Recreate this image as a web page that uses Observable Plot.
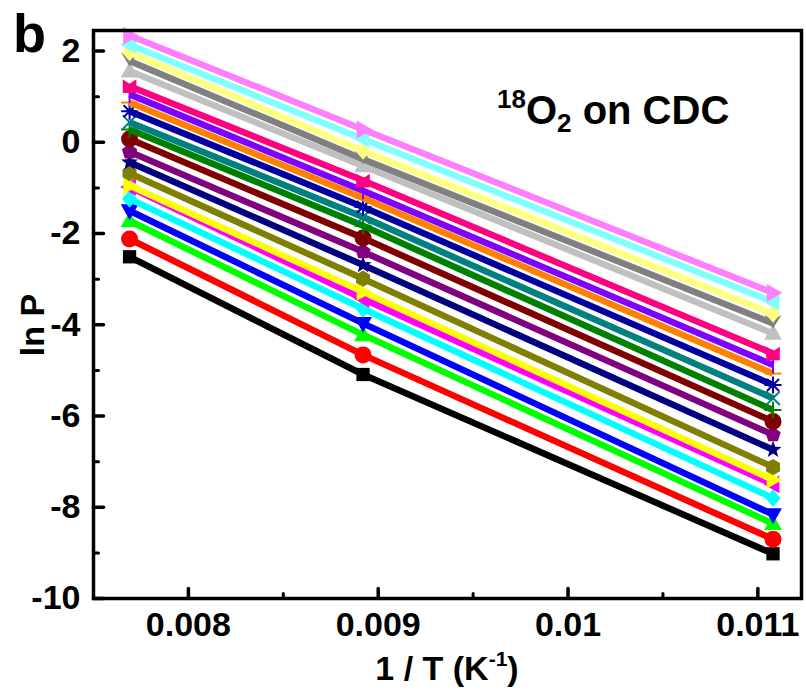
<!DOCTYPE html>
<html><head><meta charset="utf-8">
<script src="https://cdn.jsdelivr.net/npm/d3@7"></script>
<script src="https://cdn.jsdelivr.net/npm/@observablehq/plot@0.6"></script>
<style>
body{margin:0;background:#fff}
#chart{position:relative;width:806px;height:695px}
#chart svg text{font-weight:700}
</style>
</head><body><div id="chart"></div>
<script>
// ---- data ----
const invT = [0.00769, 0.00892, 0.01108];
const seriesNames = ["Black","Red","Green","Blue","Cyan","Magenta","Yellow","Dark Yellow","Navy","Purple","Wine","Olive","Dark Cyan","Royal","Orange","Violet","Pink","LT Gray","Gray","LT Yellow","LT Cyan","LT Magenta"];
const seriesColors = ["#000000","#FF0000","#00FF00","#0000FF","#00FFFF","#FF00FF","#FFFF00","#808000","#000080","#800080","#800000","#008000","#008080","#0000A0","#FF8000","#8000FF","#FF0080","#C0C0C0","#808080","#FFFF80","#80FFFF","#FF80FF"];
const seriesSymbols = ["square","circle","triUp","triDown","diamond","triLeft","triRight","hexagon","star","pentagon","sphere","plus","times","asterisk","hyphen","vbar","notch","triUp","hourglass","diamond","triLeft","triRight"];
const lnP_T130 = [-2.51,-2.12,-1.72,-1.50,-1.24,-0.98,-0.95,-0.68,-0.44,-0.21,0.07,0.28,0.44,0.68,0.87,1.05,1.23,1.56,1.78,1.97,2.14,2.34];
const lnP_T112 = [-5.09,-4.66,-4.22,-3.97,-3.65,-3.43,-3.28,-2.99,-2.69,-2.40,-2.10,-1.83,-1.64,-1.42,-1.22,-1.06,-0.84,-0.52,-0.37,-0.19,0.07,0.28];
const lnP_T90  = [-9.02,-8.70,-8.36,-8.16,-7.80,-7.50,-7.40,-7.12,-6.74,-6.41,-6.12,-5.87,-5.61,-5.32,-5.07,-4.88,-4.63,-4.19,-3.97,-3.76,-3.50,-3.30];
const xTickValues = [0.008, 0.009, 0.01, 0.011];
const xTickLabels = ["0.008","0.009","0.01","0.011"];
const xMinorTicks = [0.0085, 0.0095, 0.0105];
const yTickValues = [-10,-8,-6,-4,-2,0,2];
const yTickLabels = ["-10","-8","-6","-4","-2","0","2"];
const yMinorTicks = [-9,-7,-5,-3,-1,1];
const xDomain = [0.0075, 0.01123];
const yDomain = [-10, 2.45];

// ---- symbols ----
const R = s => Math.sqrt(s / Math.PI);
function poly(c, pts){ c.moveTo(pts[0][0], pts[0][1]); for (let k = 1; k < pts.length; k++) c.lineTo(pts[k][0], pts[k][1]); c.closePath(); }
function ngon(n, r, rot){ const p=[]; for(let k=0;k<n;k++){const a=rot+k*2*Math.PI/n; p.push([r*Math.sin(a), -r*Math.cos(a)]);} return p; }
const shapes = {
  square:{draw(c,s){const r=R(s)*0.78; c.rect(-r,-r,2*r,2*r);}},
  circle:{draw(c,s){const r=R(s); c.moveTo(r,0); c.arc(0,0,r,0,2*Math.PI);}},
  sphere:{draw(c,s){const r=R(s); c.moveTo(r,0); c.arc(0,0,r,0,2*Math.PI);}},
  triUp:{draw(c,s){const r=R(s)*1.1; poly(c,[[0,-r],[r*0.95,r*0.68],[-r*0.95,r*0.68]]);}},
  triDown:{draw(c,s){const r=R(s)*1.1; poly(c,[[0,r],[r*0.95,-r*0.68],[-r*0.95,-r*0.68]]);}},
  triLeft:{draw(c,s){const r=R(s)*1.1; poly(c,[[-r,0],[r*0.68,-r*0.95],[r*0.68,r*0.95]]);}},
  triRight:{draw(c,s){const r=R(s)*1.1; poly(c,[[r,0],[-r*0.68,-r*0.95],[-r*0.68,r*0.95]]);}},
  diamond:{draw(c,s){const r=R(s)*1.05; poly(c,[[0,-r],[r*0.85,0],[0,r],[-r*0.85,0]]);}},
  hexagon:{draw(c,s){poly(c, ngon(6, R(s)*0.95, 0));}},
  pentagon:{draw(c,s){poly(c, ngon(5, R(s)*0.95, 0));}},
  star:{draw(c,s){const r=R(s)*1.05, ri=r*0.42, p=[]; for(let k=0;k<10;k++){const a=k*Math.PI/5, rr=k%2?ri:r; p.push([rr*Math.sin(a), -rr*Math.cos(a)]);} poly(c,p);}},
  plus:{draw(c,s){const r=R(s); c.moveTo(-r,0); c.lineTo(r,0); c.moveTo(0,-r); c.lineTo(0,r);}},
  times:{draw(c,s){const r=R(s)*0.8; c.moveTo(-r,-r); c.lineTo(r,r); c.moveTo(-r,r); c.lineTo(r,-r);}},
  asterisk:{draw(c,s){const r=R(s); for(let k=0;k<4;k++){const a=k*Math.PI/4; c.moveTo(-r*Math.cos(a),-r*Math.sin(a)); c.lineTo(r*Math.cos(a),r*Math.sin(a));}}},
  hyphen:{draw(c,s){const r=R(s); c.moveTo(-r,0); c.lineTo(r,0);}},
  vbar:{draw(c,s){const r=R(s); c.moveTo(0,-r); c.lineTo(0,r);}},
  notch:{draw(c,s){const r=R(s)*0.8; poly(c,[[-r,-r],[0,-r*0.35],[r,-r],[r,r],[-r,r]]);}},
  hourglass:{draw(c,s){const r=R(s)*1.0; poly(c,[[-r,-r],[0,-r*0.45],[r,-r],[0,r*0.6]]);}}
};
const strokedSymbols = new Set(["plus","times","asterisk","hyphen","vbar"]);

// ---- ticks ----
const tickShape = {draw(c, l){ c.moveTo(0,0); c.lineTo(0,-l); }};

const marks = [];
seriesNames.forEach((name, i) => {
  const pts = invT.map((x, j) => ({series: name, x, y: [lnP_T130, lnP_T112, lnP_T90][j][i]}));
  const col = seriesColors[i];
  marks.push(Plot.line(pts, {x: "x", y: "y", stroke: col, strokeWidth: 6.5, strokeLinecap: "butt"}));
  const sym = seriesSymbols[i];
  const stroked = strokedSymbols.has(sym);
  marks.push(Plot.dot(pts, {x: "x", y: "y", r: 8.5, symbol: shapes[sym],
    fill: stroked ? "none" : col, stroke: stroked ? col : "none", strokeWidth: stroked ? 2 : 0}));
});

marks.push(Plot.frame({stroke: "#000", strokeWidth: 3.5}));
marks.push(Plot.vector(xTickValues, {x: d => d, y: yDomain[0], length: 10, rotate: 0, anchor: "start", shape: tickShape, stroke: "#000", strokeWidth: 3.5}));
marks.push(Plot.vector(xMinorTicks, {x: d => d, y: yDomain[0], length: 5, rotate: 0, anchor: "start", shape: tickShape, stroke: "#000", strokeWidth: 3}));
marks.push(Plot.vector(yTickValues, {x: xDomain[0], y: d => d, length: 10, rotate: 90, anchor: "start", shape: tickShape, stroke: "#000", strokeWidth: 3.5}));
marks.push(Plot.vector(yMinorTicks, {x: xDomain[0], y: d => d, length: 5, rotate: 90, anchor: "start", shape: tickShape, stroke: "#000", strokeWidth: 3}));
marks.push(Plot.axisX(xTickValues, {tickSize: 0, tickPadding: 13, fontSize: 34, fontWeight: "bold", label: null,
  tickFormat: d => xTickLabels[xTickValues.indexOf(d)], fill: "#000"}));
marks.push(Plot.axisY(yTickValues, {tickSize: 0, tickPadding: 13, fontSize: 34, fontWeight: "bold", label: null,
  tickFormat: d => yTickLabels[yTickValues.indexOf(d)], fill: "#000"}));

const plot = Plot.plot({
  width: 806, height: 695,
  marginLeft: 93, marginRight: 5, marginTop: 30, marginBottom: 97,
  x: {domain: xDomain},
  y: {domain: yDomain},
  style: {fontFamily: "'Liberation Sans', Arial, sans-serif", background: "#fff", color: "#000"},
  marks
});
document.getElementById("chart").appendChild(plot);

// ---- texts ----
const svg = d3.select(plot);
const F = "'Liberation Sans', Arial, sans-serif";
svg.append("text").attr("x", 13).attr("y", 52).attr("text-anchor", "start").attr("font-family", F).attr("font-size", 54).attr("font-weight", 700).text("b");
const ann = svg.append("text").attr("x", 497).attr("y", 124).attr("text-anchor", "start").attr("font-family", F).attr("font-size", 40).attr("font-weight", 700);
ann.append("tspan").attr("font-size", 26).attr("dy", -16).text("18");
ann.append("tspan").attr("dy", 16).text("O");
ann.append("tspan").attr("font-size", 26).attr("dy", 8).text("2");
ann.append("tspan").attr("dy", -8).text(" on CDC");
const xt = svg.append("text").attr("x", 447).attr("y", 680).attr("text-anchor", "middle").attr("font-family", F).attr("font-size", 34).attr("font-weight", 700);
xt.append("tspan").text("1 / T (K");
xt.append("tspan").attr("font-size", 21).attr("dy", -14).text("-1");
xt.append("tspan").attr("dy", 14).text(")");
svg.append("text").attr("transform", "translate(44,325) rotate(-90)").attr("text-anchor", "middle").attr("font-family", F).attr("font-size", 34).attr("font-weight", 700).text("ln P");
</script>
</body></html>
